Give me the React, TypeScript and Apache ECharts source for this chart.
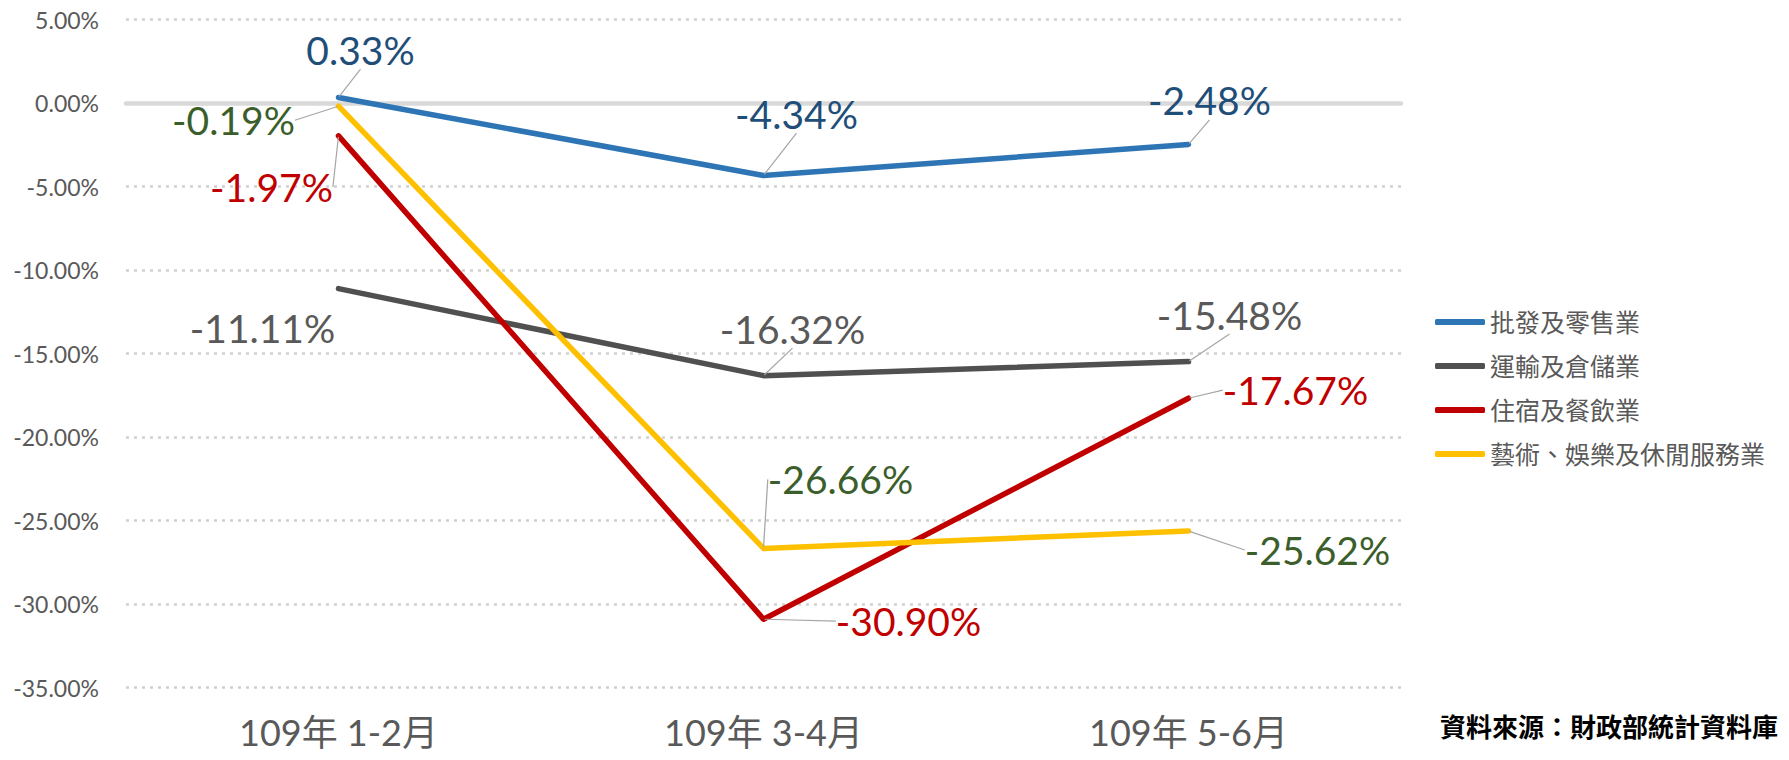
import React, { useEffect, useRef } from 'react';
import * as echarts from 'echarts';

const categories = ['109年 1-2月', '109年 3-4月', '109年 5-6月'];
const seriesNames = ['批發及零售業', '運輸及倉儲業', '住宿及餐飲業', '藝術、娛樂及休閒服務業'];
const wholesaleRetail = [0.33, -4.34, -2.48];
const transportStorage = [-11.11, -16.32, -15.48];
const accommodationFood = [-1.97, -30.9, -17.67];
const artsRecreation = [-0.19, -26.66, -25.62];
const yMin = -35;
const yMax = 5;
const yInterval = 5;
const sourceNote = '資料來源：財政部統計資料庫';

const seriesValues = [wholesaleRetail, transportStorage, accommodationFood, artsRecreation];
const lineColors = ['#2E75B6', '#505050', '#C00000', '#FFC000'];
const labelColors = ['#1F4E79', '#595959', '#C00000', '#3B5E2B'];
// label offsets (px) relative to each point
const labelOffsets = [
  [[22, -48], [33, -62], [21, -44]],
  [[-76, 39], [29, -47], [41, -47]],
  [[-67, 51], [145, 2], [107, -8]],
  [[-105, 14], [77, -69], [129, 19]],
];
const showLeader = [
  [true, true, true],
  [false, true, true],
  [true, true, true],
  [true, true, true],
];

const FONT = "Lato, 'Noto Sans CJK TC', sans-serif";

export default function App() {
  const ref = useRef<HTMLDivElement>(null);
  useEffect(() => {
    document.body.style.margin = '0';
    const chart = echarts.init(ref.current!, null, { renderer: 'svg' });
    const series = seriesValues.map((vals, s) => ({
      name: seriesNames[s],
      type: 'line',
      data: vals.map((v, i) => ({
        value: v,
        labelLine: { show: showLeader[s][i] },
      })),
      showSymbol: true,
      symbol: 'circle',
      symbolSize: 2,
      itemStyle: { color: lineColors[s] },
      lineStyle: { color: lineColors[s], width: 5.5, cap: 'round', join: 'round' },
      label: {
        show: true,
        position: 'inside',
        formatter: (p: any) => p.value.toFixed(2) + '%',
        fontSize: 39,
        fontFamily: FONT,
        color: labelColors[s],
      },
      labelLine: { show: true, lineStyle: { color: '#A6A6A6', width: 1.2 } },
      labelLayout: (params: any) => {
        const off = labelOffsets[s][params.dataIndex];
        return { dx: off[0], dy: off[1] };
      },
      z: 3 + s,
    }));
    chart.setOption({
      animation: false,
      backgroundColor: '#ffffff',
      grid: { left: 126, right: 388, top: 19.5, bottom: 72.3, containLabel: false },
      legend: {
        orient: 'vertical',
        left: 1430,
        top: 303,
        icon: 'roundRect',
        itemWidth: 50,
        itemHeight: 6,
        itemGap: 16,
        textStyle: { fontSize: 25, color: '#595959', fontFamily: FONT, lineHeight: 28 },
        data: seriesNames,
      },
      xAxis: [
        {
          type: 'category',
          data: categories,
          boundaryGap: true,
          axisLine: { show: false, onZero: false },
          axisTick: { show: false },
          axisLabel: { fontSize: 36, lineHeight: 36, color: '#595959', fontFamily: FONT, margin: 26 },
        },
        {
          type: 'category',
          data: categories,
          boundaryGap: true,
          position: 'bottom',
          axisLine: { show: true, onZero: true, lineStyle: { color: '#D9D9D9', width: 4.5 } },
          axisTick: { show: false },
          axisLabel: { show: false },
        },
      ],
      yAxis: {
        type: 'value',
        min: yMin,
        max: yMax,
        interval: yInterval,
        axisLine: { show: false },
        axisTick: { show: false },
        axisLabel: {
          fontSize: 23,
          color: '#595959',
          fontFamily: FONT,
          margin: 27,
          formatter: (v: number) => v.toFixed(2) + '%',
        },
        splitLine: { show: true, lineStyle: { color: '#D0D0D0', width: 2.5, type: [3, 5] } },
      },
      graphic: [
        {
          type: 'text',
          left: 1440,
          top: 712,
          style: {
            text: sourceNote,
            fontSize: 26,
            fontWeight: 'bold',
            fill: '#000000',
            fontFamily: "'Noto Sans CJK TC', sans-serif",
          },
        },
      ],
      series,
    });
    return () => chart.dispose();
  }, []);
  return <div ref={ref} style={{ position: 'fixed', left: 0, top: 0, width: 1789, height: 760 }} />;
}
